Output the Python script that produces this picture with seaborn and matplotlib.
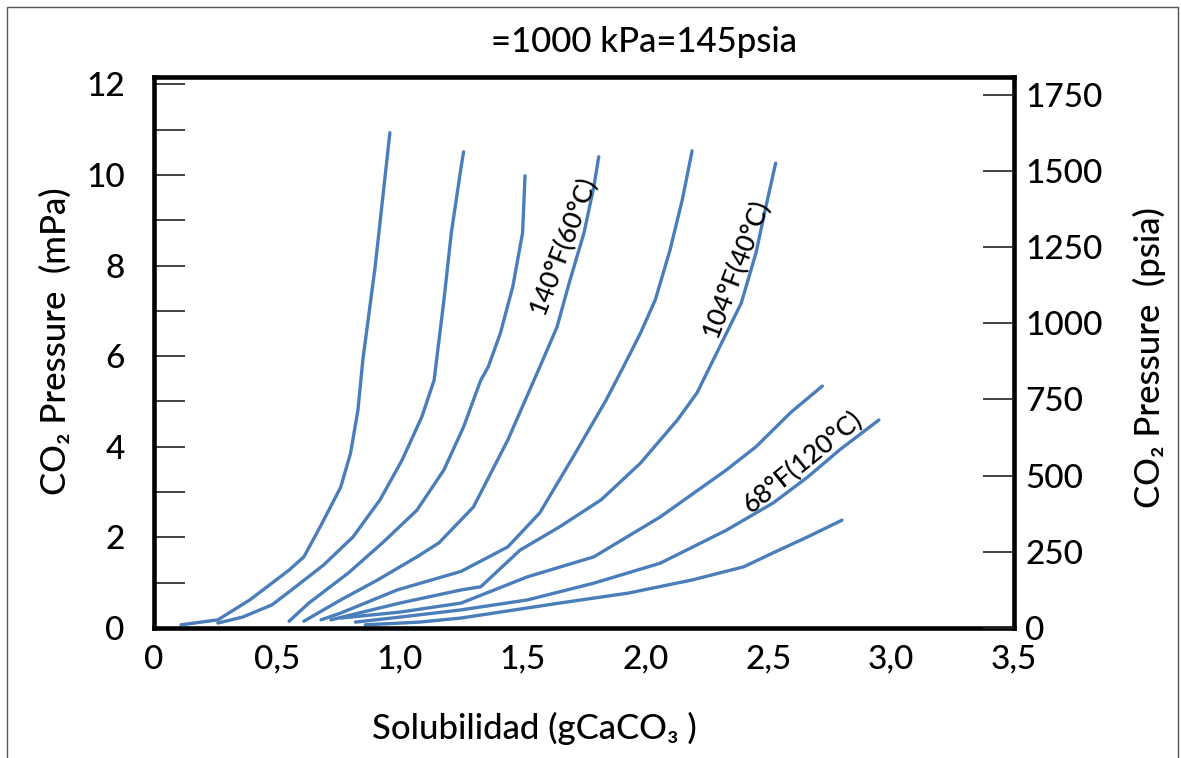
import numpy as np
import pandas as pd
import seaborn as sns
from matplotlib import pyplot as plt
from matplotlib.patches import Rectangle

# Curves: solubility (g CaCO3) vs CO2 pressure (mPa)
sol_1 = [0.11, 0.26, 0.39, 0.48, 0.55, 0.61, 0.68, 0.76, 0.80, 0.83, 0.85, 0.90, 0.93, 0.96]
pre_1 = [0.07, 0.18, 0.62, 0.99, 1.28, 1.57, 2.27, 3.11, 3.86, 4.81, 5.92, 7.97, 9.45, 10.93]

sol_2 = [0.26, 0.36, 0.48, 0.56, 0.69, 0.81, 0.92, 1.01, 1.09, 1.14, 1.18, 1.21, 1.25, 1.26]
pre_2 = [0.11, 0.24, 0.51, 0.84, 1.39, 2.01, 2.83, 3.71, 4.66, 5.47, 7.24, 8.72, 10.18, 10.51]

sol_3 = [0.55, 0.63, 0.79, 0.93, 1.07, 1.18, 1.26, 1.33, 1.36, 1.41, 1.46, 1.50, 1.51]
pre_3 = [0.15, 0.55, 1.21, 1.88, 2.60, 3.49, 4.44, 5.47, 5.76, 6.51, 7.53, 8.72, 9.98]

sol_4 = [0.61, 0.76, 0.91, 1.07, 1.16, 1.30, 1.44, 1.57, 1.64, 1.69, 1.75, 1.79, 1.81]
pre_4 = [0.15, 0.62, 1.06, 1.57, 1.88, 2.67, 4.15, 5.76, 6.64, 7.62, 8.72, 9.74, 10.40]

sol_5 = [0.68, 0.76, 0.99, 1.25, 1.44, 1.57, 1.705, 1.84, 1.91, 1.98, 2.04, 2.10, 2.15, 2.19]
pre_5 = [0.18, 0.33, 0.84, 1.25, 1.79, 2.54, 3.77, 5.03, 5.76, 6.51, 7.24, 8.34, 9.45, 10.53]

sol_6 = [0.72, 1.00, 1.25, 1.33, 1.49, 1.65, 1.82, 1.98, 2.13, 2.21, 2.29, 2.39, 2.45, 2.49, 2.53]
pre_6 = [0.18, 0.55, 0.84, 0.91, 1.72, 2.23, 2.83, 3.64, 4.59, 5.19, 6.07, 7.17, 8.28, 9.29, 10.26]

sol_7 = [0.76, 1.00, 1.25, 1.52, 1.79, 2.06, 2.33, 2.45, 2.59, 2.72]
pre_7 = [0.22, 0.35, 0.55, 1.13, 1.57, 2.45, 3.49, 4.00, 4.75, 5.34]

sol_8 = [0.82, 1.00, 1.25, 1.52, 1.79, 2.06, 2.33, 2.52, 2.66, 2.79, 2.95]
pre_8 = [0.13, 0.24, 0.40, 0.62, 0.99, 1.43, 2.16, 2.76, 3.33, 3.93, 4.59]

sol_9 = [0.86, 1.08, 1.25, 1.65, 1.93, 2.19, 2.40, 2.52, 2.66, 2.80]
pre_9 = [0.07, 0.13, 0.22, 0.55, 0.77, 1.06, 1.35, 1.66, 2.01, 2.38]

curves = [(sol_1, pre_1), (sol_2, pre_2), (sol_3, pre_3), (sol_4, pre_4), (sol_5, pre_5),
          (sol_6, pre_6), (sol_7, pre_7), (sol_8, pre_8), (sol_9, pre_9)]

x_ticks = [0, 0.25, 0.5, 0.75, 1.0, 1.25, 1.5, 1.75, 2.0, 2.25, 2.5, 2.75, 3.0, 3.25, 3.5]
x_labels = ['0', '', '0,5', '', '1,0', '', '1,5', '', '2,0', '', '2,5', '', '3,0', '', '3,5']
y_ticks = [0, 1, 2, 3, 4, 5, 6, 7, 8, 9, 10, 11, 12]
y_labels = ['0', '', '2', '', '4', '', '6', '', '8', '', '10', '', '12']
psia_ticks = [0, 250, 500, 750, 1000, 1250, 1500, 1750]

# curve labels: text, position (solubility, pressure), angle
curve_notes = [('140°F(60°C)', 1.665, 8.45, 69),
               ('104°F(40°C)', 2.37, 7.95, 69),
               ('68°F(120°C)', 2.64, 3.66, 39)]

rows = []
for i, (xs, ys) in enumerate(curves):
    for xv, yv in zip(xs, ys):
        rows.append({'curva': i, 'sol': xv, 'pres': yv})
df = pd.DataFrame(rows)

sns.set_theme(style='white')
plt.rcParams['font.family'] = ['Lato', 'DejaVu Sans']
plt.rcParams['font.weight'] = 'medium'
plt.rcParams['text.color'] = 'black'

fig = plt.figure(figsize=(11.81, 7.58), dpi=100)
ax = fig.add_axes([154 / 1181, 130 / 758, 860 / 1181, 551 / 758])

sns.lineplot(data=df, x='sol', y='pres', units='curva', estimator=None, sort=False,
             color='#4A7EBB', linewidth=2.4, ax=ax)

ax.set_xlim(0, 3.5)
ax.set_ylim(0, 12.16)
ax.set_xlabel('')
ax.set_ylabel('')

ax.set_xticks(x_ticks)
ax.set_xticklabels(x_labels)
ax.set_yticks(y_ticks)
ax.set_yticklabels(y_labels)
ax.tick_params(axis='x', direction='in', length=23, width=1.2, color='#222222',
               labelsize=24, pad=12, labelcolor='black')
ax.tick_params(axis='y', direction='in', length=22, width=1.2, color='#222222',
               labelsize=24, pad=21, labelcolor='black')
ax.yaxis.get_major_ticks()[-1].tick1line.set_visible(False)

for sp in ax.spines.values():
    sp.set_linewidth(3.3)
    sp.set_color('black')
    sp.set_visible(True)

ax2 = ax.twinx()
ax2.set_ylim(0, 1808)
ax2.set_yticks(psia_ticks)
ax2.set_yticklabels([str(v) for v in psia_ticks])
ax2.tick_params(axis='y', direction='in', length=22, width=1.2, color='#222222',
                labelsize=24, pad=8, labelcolor='black')
for sp in ax2.spines.values():
    sp.set_visible(False)

for txt, xv, yv, ang in curve_notes:
    ax.text(xv, yv, txt, rotation=ang, rotation_mode='anchor', ha='center', va='center',
            fontsize=19, color='black')

fig.text(644 / 1181, 1 - 42 / 758, '=1000 kPa=145psia', ha='center', va='center', fontsize=25)
fig.text(534 / 1181, 1 - 728 / 758, 'Solubilidad (gCaCO₃ )', ha='center', va='center', fontsize=25)
fig.text(56 / 1181, 1 - 341 / 758, 'CO₂ Pressure  (mPa)', ha='center', va='center',
         rotation=90, fontsize=25)
fig.text(1149 / 1181, 1 - 358 / 758, 'CO₂ Pressure  (psia)', ha='center', va='center',
         rotation=90, fontsize=25)

# thin frame around the whole picture
fig.patches.append(Rectangle((7 / 1181, -0.05), 1171 / 1181, 1.05 - 7 / 758,
                             transform=fig.transFigure, fill=False, edgecolor='#555555', linewidth=1))

fig.savefig('out.png', dpi=100)
